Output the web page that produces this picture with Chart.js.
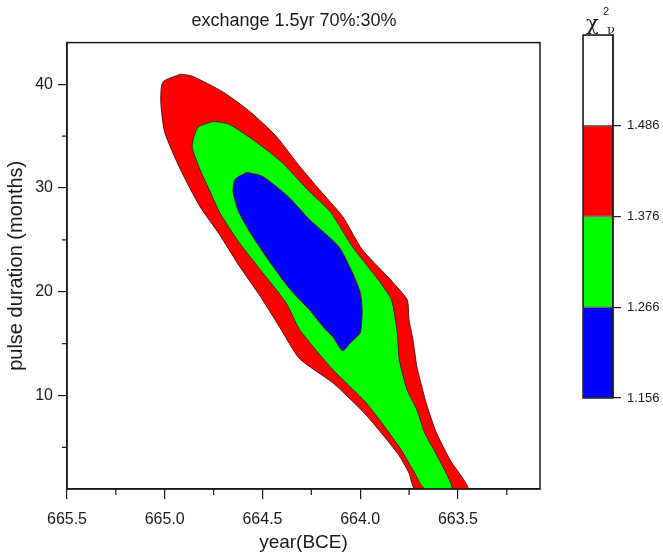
<!DOCTYPE html>
<html>
<head>
<meta charset="utf-8">
<script src="https://cdn.jsdelivr.net/npm/chart.js@4.4.1/dist/chart.umd.min.js"></script>
<style>
  html, body { margin: 0; padding: 0; background: #fff; }
  #wrap { position: relative; width: 663px; height: 556px; }
  #main { position: absolute; left: 0; top: 0; }
  #bar  { position: absolute; left: 580px; top: 0; }
</style>
</head>
<body>
<div id="wrap">
  <canvas id="main" width="588" height="556"></canvas>
  <canvas id="bar" width="83" height="556"></canvas>
</div>
<script>
// ── 軸刻度 ────────────────────────────────────────────────────────────────
const xTicks      = [665.5, 665.0, 664.5, 664.0, 663.5];
const xMinorTicks = [665.25, 664.75, 664.25, 663.75, 663.25];
const yTicks      = [10, 20, 30, 40];
const yMinorTicks = [5, 15, 25, 35];

// ── 等高線（χ²ν 區間邊界）──────────────────────────────────────────────────
const redX   = [664.92, 664.86, 664.70, 664.56, 664.43, 664.31, 664.21, 664.09, 663.99, 663.86,
                663.76, 663.75, 663.73, 663.71, 663.69, 663.66, 663.61, 663.54, 663.45, 663.72,
                663.75, 663.81, 663.97, 664.14, 664.31, 664.41, 664.51, 664.62, 664.72, 664.82,
                664.92, 665.00, 665.02, 665.01];
const redY   = [40.96, 40.77, 39.22, 37.29, 34.98, 32.08, 29.86, 27.25, 24.07, 21.46,
                19.24, 17.31, 15.38, 12.78, 11.23, 9.11, 6.41, 3.80, 1, 1,
                2.54, 4.47, 8.14, 11.23, 13.55, 16.54, 19.53, 22.53, 25.52, 28.22,
                31.79, 35.36, 38.26, 40.19];

const greenX = [664.75, 664.67, 664.53, 664.40, 664.27, 664.15, 664.04, 663.92, 663.84, 663.81,
                663.80, 663.76, 663.71, 663.67, 663.60, 663.53, 663.67, 663.73, 663.80, 663.97,
                664.14, 664.31, 664.38, 664.50, 664.62, 664.72, 664.75, 664.82, 664.86, 664.83];
const greenY = [36.42, 36.14, 34.40, 32.47, 29.86, 27.64, 24.36, 21.46, 19.24, 16.06,
                13.45, 10.56, 8.63, 6.41, 3.99, 1, 1, 2.83, 5.05, 9.30,
                12.49, 16.35, 18.95, 21.85, 24.75, 27.64, 28.90, 31.79, 34.01, 35.85];

const blueX  = [664.58, 664.50, 664.37, 664.26, 664.11, 664.04, 664.00, 663.99, 664.00, 664.05,
                664.09, 664.14, 664.19, 664.26, 664.31, 664.37, 664.46, 664.55, 664.62, 664.65,
                664.64];
const blueY  = [31.50, 31.12, 29.19, 26.97, 24.36, 21.85, 19.92, 18.28, 16.06, 15.09,
                14.32, 15.67, 16.64, 18.28, 19.24, 20.50, 22.81, 25.32, 27.64, 29.57,
                30.83];

// ── 色階 ──────────────────────────────────────────────────────────────────
const chiTicks  = [1.156, 1.266, 1.376, 1.486];
const chiTop    = 1.596;
const chiColors = ['#0000ff', '#00ff00', '#ff0000', '#ffffff'];

const INK  = '#1a1a1a';
const FONT = "'Liberation Sans', Arial, sans-serif";

// 封閉多邊形
const toLoop = (xs, ys) => {
  const pts = xs.map((x, i) => ({ x, y: ys[i] }));
  pts.push({ ...pts[0] });
  return pts;
};

const contour = (xs, ys, color) => ({
  data: toLoop(xs, ys),
  backgroundColor: color,
  borderColor: '#5a1414',
  borderWidth: 1,
  pointRadius: 0,
  tension: 0.2,
  fill: 'shape'
});

// 外框 + 次刻度
const framePlugin = {
  id: 'frame',
  afterDraw(chart) {
    const { ctx, chartArea: a, scales: { x, y } } = chart;
    ctx.save();
    ctx.strokeStyle = INK;
    ctx.lineWidth = 1.5;
    ctx.strokeRect(a.left, a.top, a.right - a.left, a.bottom - a.top);
    ctx.lineWidth = 1.2;
    ctx.beginPath();
    xMinorTicks.forEach(v => {
      const px = x.getPixelForValue(v);
      ctx.moveTo(px, a.bottom); ctx.lineTo(px, a.bottom + 6);
    });
    yMinorTicks.forEach(v => {
      const py = y.getPixelForValue(v);
      ctx.moveTo(a.left - 5, py); ctx.lineTo(a.left, py);
    });
    ctx.stroke();
    ctx.restore();
  }
};

new Chart(document.getElementById('main'), {
  type: 'line',
  data: {
    datasets: [
      contour(blueX,  blueY,  '#0000ff'),
      contour(greenX, greenY, '#00ff00'),
      contour(redX,   redY,   '#ff0000')
    ]
  },
  options: {
    responsive: false,
    animation: false,
    layout: { padding: 0 },
    plugins: {
      legend: { display: false },
      tooltip: { enabled: false },
      title: {
        display: true,
        text: 'exchange 1.5yr 70%:30%',
        color: INK,
        font: { family: FONT, size: 18, weight: 'normal' },
        padding: { top: 10, bottom: 11 }
      }
    },
    scales: {
      x: {
        type: 'linear',
        reverse: true,
        min: 663.08, max: 665.5,
        afterBuildTicks: s => { s.ticks = xTicks.map(v => ({ value: v })); },
        afterFit: s => { s.height = 67; },
        ticks: { color: INK, font: { family: FONT, size: 16 }, padding: 11, maxRotation: 0,
                 callback: v => Number(v).toFixed(1) },
        grid: { drawOnChartArea: false, tickLength: 10, color: INK, lineWidth: 1.2 },
        border: { color: INK, width: 1.5 },
        title: { display: true, text: 'year(BCE)', color: INK,
                 font: { family: FONT, size: 19 }, padding: { top: 2, bottom: 2 } }
      },
      y: {
        type: 'linear',
        min: 1, max: 44,
        afterBuildTicks: s => { s.ticks = yTicks.map(v => ({ value: v })); },
        afterFit: s => { s.width = 67; },
        ticks: { color: INK, font: { family: FONT, size: 16 }, padding: 5 },
        grid: { drawOnChartArea: false, tickLength: 9, color: INK, lineWidth: 1.2 },
        border: { color: INK, width: 1.5 },
        title: { display: true, text: 'pulse duration (months)', color: INK,
                 font: { family: FONT, size: 20 }, padding: { top: 4, bottom: 0 } }
      },
      yr: {
        position: 'right',
        display: true,
        grid: { display: false },
        ticks: { display: false },
        border: { display: false },
        afterFit: s => { s.width = 48; }
      }
    }
  },
  plugins: [framePlugin]
});

// ── 色階條 ────────────────────────────────────────────────────────────────
const barPlugin = {
  id: 'cbar',
  afterDraw(chart) {
    const { ctx, chartArea: a } = chart;
    ctx.save();
    ctx.strokeStyle = INK;
    ctx.lineWidth = 1.5;
    ctx.strokeRect(a.left, a.top, a.right - a.left, a.bottom - a.top);
    ctx.fillStyle = INK;
    ctx.textBaseline = 'alphabetic';
    ctx.font = "21px 'DejaVu Serif', serif";
    ctx.fillText('χ', a.left + 3, 30);
    ctx.font = "11px 'Liberation Sans', Arial, sans-serif";
    ctx.fillText('2', a.left + 20, 15);
    ctx.font = "13px 'DejaVu Serif', serif";
    ctx.fillText('ν', a.left + 24, 34);
    ctx.restore();
  }
};

new Chart(document.getElementById('bar'), {
  type: 'bar',
  data: {
    labels: [''],
    datasets: chiColors.map((c, i) => ({
      data: [[chiTicks[i], i + 1 < chiTicks.length ? chiTicks[i + 1] : chiTop]],
      backgroundColor: c,
      borderColor: 'rgba(0,0,0,0.55)',
      borderWidth: 1,
      borderSkipped: false,
      grouped: false,
      barPercentage: 1,
      categoryPercentage: 1
    }))
  },
  options: {
    responsive: false,
    animation: false,
    layout: { padding: { left: 3, top: 35, bottom: 158, right: 0 } },
    plugins: { legend: { display: false }, tooltip: { enabled: false } },
    scales: {
      x: { display: false },
      y: {
        position: 'right',
        min: chiTicks[0], max: chiTop,
        afterBuildTicks: s => { s.ticks = chiTicks.map(v => ({ value: v })); },
        afterFit: s => { s.width = 50; },
        ticks: { color: INK, font: { family: FONT, size: 13 }, padding: 6,
                 callback: v => Number(v).toFixed(3) },
        grid: { drawOnChartArea: false, tickLength: 8, color: INK, lineWidth: 1.2 },
        border: { color: INK, width: 1.5 }
      }
    }
  },
  plugins: [barPlugin]
});
</script>
</body>
</html>
